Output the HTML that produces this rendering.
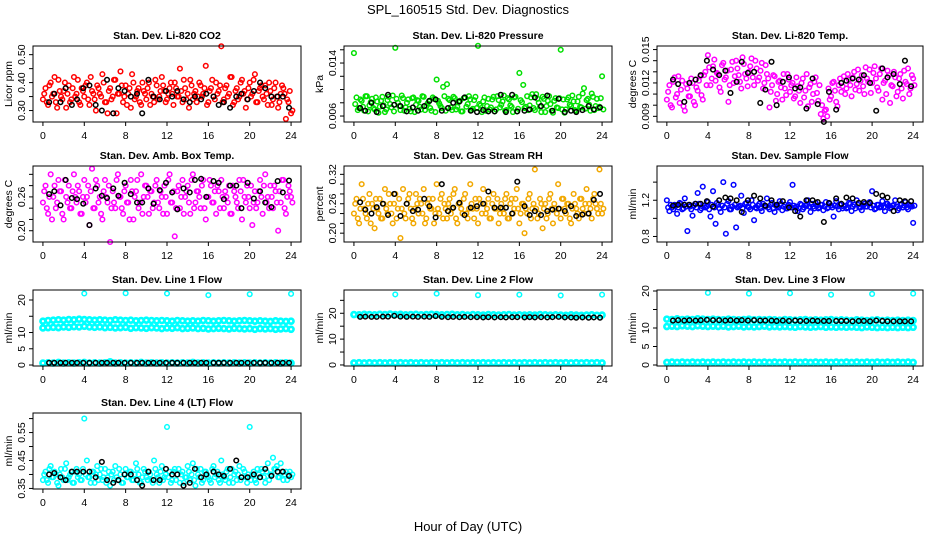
<!DOCTYPE html>
<html><head><meta charset="utf-8"><title>SPL_160515 Std. Dev. Diagnostics</title>
<style>
html,body{margin:0;padding:0;background:#fff;}
svg{display:block;font-family:"Liberation Sans",Arial,sans-serif;}
</style></head>
<body>
<svg id="chart" width="936" height="540" viewBox="0 0 936 540" xmlns="http://www.w3.org/2000/svg">
<text x="468" y="14" text-anchor="middle" font-size="13">SPL_160515  Std. Dev. Diagnostics</text>
<text x="468" y="531" text-anchor="middle" font-size="13">Hour of Day (UTC)</text>
</svg>
<script>
// ---- data ----
const hourTicks = [0,4,8,12,16,20,24];
const blackTimes = [0.6,1.1,1.7,2.2,2.8,3.3,3.9,4.5,5.1,5.7,6.2,6.8,7.3,7.9,8.5,9.1,9.6,10.2,10.7,11.3,11.9,12.5,13.0,13.6,14.2,14.7,15.3,15.8,16.5,17.0,17.5,18.1,18.7,19.2,19.8,20.4,21.0,21.5,22.1,22.7,23.2,23.8];
const outlierTimes = [4,8,12,16,20,24];

const co2Vals = [0.34,0.38,0.32,0.40,0.36,0.33,0.41,0.35,0.37,0.31,0.39,0.34,0.42,0.36,0.33,0.38,0.35,0.40,0.32,0.37,0.34,0.39,0.36,0.43,0.33,0.29,0.38,0.35,0.41,0.36,0.44,0.33,0.39,0.36,0.31,0.40,0.35,0.38,0.32,0.37,0.34,0.40,0.36,0.33,0.39,0.35,0.42,0.37,0.34,0.38,0.36,0.40,0.35,0.45,0.33,0.38,0.36,0.41,0.34,0.37,0.35,0.39,0.36,0.46,0.33,0.38,0.35,0.40,0.37,0.53,0.34,0.39,0.36,0.42,0.33,0.38,0.35,0.41,0.37,0.34,0.40,0.36,0.43,0.33,0.38,0.35,0.39,0.32,0.37,0.34,0.40,0.31,0.36,0.38,0.27,0.33,0.29];
const co2ValsB = [0.36,0.33,0.39,0.35,0.42,0.31,0.37,0.34,0.40,0.36,0.33,0.38,0.35,0.41,0.32,0.37,0.39,0.34,0.42,0.36,0.30,0.38,0.35,0.40,0.33,0.37,0.34,0.41,0.29,0.36,0.39,0.35,0.32,0.38,0.43,0.34,0.37,0.33,0.40,0.36,0.38,0.32,0.35,0.41,0.34,0.37,0.39,0.33,0.36,0.40,0.32,0.38,0.35,0.37,0.41,0.34,0.31,0.39,0.36,0.33,0.40,0.35,0.38,0.32,0.37,0.41,0.34,0.36,0.39,0.33,0.38,0.35,0.42,0.32,0.37,0.34,0.40,0.36,0.31,0.38,0.35,0.41,0.33,0.37,0.39,0.34,0.36,0.40,0.32,0.38,0.35,0.33,0.39,0.36,0.34,0.37,0.30];
const co2Black = [0.33,0.36,0.33,0.38,0.32,0.34,0.38,0.39,0.32,0.30,0.41,0.29,0.38,0.37,0.35,0.36,0.29,0.41,0.35,0.34,0.37,0.35,0.37,0.34,0.33,0.35,0.34,0.36,0.35,0.32,0.33,0.31,0.35,0.36,0.34,0.37,0.40,0.38,0.35,0.35,0.35,0.31];

const presVals = [0.0155,0.0088,0.0072,0.0083,0.0068,0.0090,0.0076,0.0086,0.0070,0.0082,0.0074,0.0089,0.0066,0.0084,0.0078,0.0091,0.0163,0.0080,0.0069,0.0087,0.0073,0.0085,0.0067,0.0088,0.0077,0.0083,0.0070,0.0089,0.0075,0.0082,0.0068,0.0086,0.0115,0.0079,0.0072,0.0090,0.0108,0.0084,0.0069,0.0087,0.0074,0.0083,0.0067,0.0088,0.0078,0.0085,0.0071,0.0089,0.0166,0.0076,0.0082,0.0068,0.0086,0.0073,0.0089,0.0070,0.0084,0.0077,0.0091,0.0069,0.0085,0.0074,0.0088,0.0067,0.0125,0.0081,0.0072,0.0090,0.0076,0.0093,0.0069,0.0086,0.0074,0.0089,0.0066,0.0083,0.0078,0.0065,0.0087,0.0072,0.0160,0.0085,0.0070,0.0088,0.0075,0.0082,0.0068,0.0089,0.0073,0.0102,0.0084,0.0077,0.0094,0.0069,0.0086,0.0074,0.0120];
const presValsB = [0.0078,0.0069,0.0085,0.0074,0.0090,0.0067,0.0081,0.0072,0.0088,0.0065,0.0083,0.0076,0.0070,0.0089,0.0073,0.0067,0.0086,0.0075,0.0091,0.0068,0.0080,0.0071,0.0087,0.0066,0.0084,0.0074,0.0090,0.0069,0.0079,0.0072,0.0088,0.0066,0.0083,0.0075,0.0104,0.0068,0.0086,0.0073,0.0089,0.0070,0.0081,0.0067,0.0087,0.0074,0.0090,0.0069,0.0084,0.0072,0.0078,0.0066,0.0088,0.0075,0.0070,0.0085,0.0067,0.0090,0.0073,0.0082,0.0068,0.0087,0.0076,0.0066,0.0089,0.0071,0.0084,0.0107,0.0074,0.0069,0.0088,0.0072,0.0093,0.0080,0.0066,0.0086,0.0075,0.0090,0.0068,0.0083,0.0073,0.0087,0.0070,0.0065,0.0085,0.0077,0.0091,0.0069,0.0082,0.0074,0.0094,0.0071,0.0086,0.0068,0.0089,0.0075,0.0072,0.0087,0.0070];
const presBlack = [0.0072,0.0068,0.0080,0.0066,0.0075,0.0092,0.0077,0.0075,0.0067,0.0073,0.0068,0.0075,0.0083,0.0085,0.0068,0.0072,0.0080,0.0082,0.0088,0.0068,0.0066,0.0069,0.0067,0.0067,0.0092,0.0066,0.0092,0.0067,0.0068,0.0070,0.0088,0.0075,0.0091,0.0068,0.0086,0.0066,0.0068,0.0066,0.0069,0.0075,0.0070,0.0073];

const tempVals = [0.0105,0.0118,0.0098,0.0125,0.0110,0.0102,0.0122,0.0095,0.0115,0.0108,0.0120,0.0100,0.0113,0.0126,0.0105,0.0130,0.0145,0.0118,0.0135,0.0122,0.0128,0.0112,0.0138,0.0125,0.0103,0.0132,0.0120,0.0140,0.0127,0.0115,0.0137,0.0124,0.0130,0.0142,0.0118,0.0133,0.0125,0.0138,0.0120,0.0128,0.0098,0.0118,0.0126,0.0110,0.0122,0.0105,0.0115,0.0128,0.0112,0.0120,0.0108,0.0117,0.0102,0.0124,0.0113,0.0099,0.0119,0.0110,0.0125,0.0104,0.0092,0.0088,0.0096,0.0115,0.0108,0.0121,0.0103,0.0118,0.0112,0.0126,0.0115,0.0123,0.0108,0.0130,0.0119,0.0113,0.0127,0.0110,0.0124,0.0132,0.0120,0.0135,0.0116,0.0128,0.0105,0.0122,0.0131,0.0102,0.0117,0.0125,0.0112,0.0128,0.0106,0.0121,0.0133,0.0115,0.0124];
const tempValsB = [0.0112,0.0100,0.0121,0.0107,0.0126,0.0114,0.0099,0.0119,0.0108,0.0124,0.0103,0.0116,0.0122,0.0109,0.0127,0.0118,0.0134,0.0124,0.0141,0.0129,0.0116,0.0136,0.0123,0.0131,0.0118,0.0139,0.0126,0.0133,0.0121,0.0143,0.0128,0.0117,0.0135,0.0125,0.0140,0.0122,0.0131,0.0115,0.0136,0.0124,0.0112,0.0127,0.0104,0.0121,0.0116,0.0128,0.0109,0.0123,0.0118,0.0106,0.0125,0.0113,0.0120,0.0107,0.0128,0.0116,0.0103,0.0121,0.0111,0.0118,0.0100,0.0095,0.0090,0.0105,0.0120,0.0113,0.0099,0.0124,0.0117,0.0110,0.0128,0.0118,0.0125,0.0114,0.0132,0.0122,0.0117,0.0134,0.0121,0.0111,0.0129,0.0124,0.0113,0.0133,0.0120,0.0110,0.0127,0.0118,0.0130,0.0108,0.0124,0.0115,0.0131,0.0119,0.0110,0.0127,0.0118];
const tempBlack = [0.0123,0.0119,0.0103,0.0120,0.0123,0.0127,0.0140,0.0132,0.0127,0.0131,0.0111,0.0121,0.0139,0.0129,0.0130,0.0102,0.0114,0.0139,0.0100,0.0121,0.0125,0.0115,0.0116,0.0097,0.0124,0.0101,0.0085,0.0112,0.0096,0.0120,0.0122,0.0124,0.0123,0.0127,0.0120,0.0095,0.0133,0.0125,0.0128,0.0119,0.0140,0.0117];

const ambVals = [0.25,0.28,0.23,0.30,0.26,0.24,0.29,0.27,0.22,0.26,0.28,0.24,0.30,0.25,0.27,0.23,0.29,0.26,0.21,0.31,0.24,0.28,0.26,0.22,0.29,0.25,0.18,0.27,0.24,0.30,0.26,0.23,0.28,0.25,0.29,0.22,0.27,0.24,0.30,0.26,0.28,0.23,0.27,0.25,0.29,0.24,0.26,0.28,0.23,0.30,0.25,0.19,0.27,0.24,0.29,0.26,0.28,0.23,0.30,0.25,0.27,0.24,0.29,0.22,0.26,0.28,0.25,0.23,0.27,0.29,0.24,0.26,0.28,0.23,0.27,0.25,0.29,0.22,0.26,0.28,0.24,0.21,0.27,0.25,0.29,0.23,0.30,0.26,0.28,0.24,0.27,0.20,0.25,0.29,0.23,0.28,0.26];
const ambValsB = [0.27,0.24,0.26,0.22,0.28,0.25,0.27,0.23,0.29,0.25,0.24,0.27,0.26,0.28,0.23,0.26,0.25,0.28,0.27,0.24,0.29,0.25,0.23,0.27,0.26,0.28,0.24,0.25,0.29,0.26,0.24,0.27,0.25,0.22,0.27,0.26,0.29,0.25,0.23,0.28,0.26,0.27,0.24,0.28,0.25,0.27,0.23,0.26,0.29,0.25,0.27,0.24,0.28,0.26,0.23,0.27,0.25,0.29,0.24,0.27,0.26,0.28,0.24,0.26,0.29,0.25,0.27,0.28,0.24,0.26,0.27,0.25,0.23,0.28,0.26,0.24,0.27,0.29,0.25,0.26,0.28,0.25,0.24,0.27,0.26,0.28,0.25,0.24,0.26,0.28,0.25,0.27,0.29,0.24,0.26,0.27,0.25];
const ambBlack = [0.265,0.270,0.245,0.290,0.258,0.256,0.248,0.210,0.275,0.262,0.258,0.275,0.262,0.285,0.265,0.250,0.250,0.275,0.248,0.272,0.285,0.268,0.238,0.275,0.268,0.290,0.292,0.260,0.288,0.285,0.256,0.280,0.280,0.240,0.285,0.257,0.270,0.250,0.242,0.288,0.268,0.289];

const rhVals = [0.24,0.27,0.22,0.30,0.25,0.23,0.28,0.26,0.21,0.25,0.27,0.23,0.29,0.24,0.26,0.22,0.28,0.25,0.19,0.29,0.23,0.27,0.25,0.22,0.28,0.24,0.26,0.29,0.23,0.27,0.25,0.22,0.30,0.24,0.28,0.26,0.23,0.27,0.25,0.29,0.22,0.26,0.24,0.28,0.23,0.30,0.25,0.27,0.22,0.26,0.29,0.24,0.27,0.23,0.28,0.25,0.22,0.26,0.24,0.28,0.23,0.27,0.25,0.29,0.22,0.26,0.20,0.24,0.28,0.25,0.33,0.23,0.27,0.21,0.26,0.24,0.28,0.22,0.25,0.30,0.23,0.27,0.24,0.26,0.22,0.28,0.25,0.23,0.27,0.24,0.29,0.26,0.23,0.28,0.25,0.33,0.24];
const rhValsB = [0.26,0.23,0.25,0.27,0.24,0.26,0.22,0.25,0.27,0.24,0.23,0.26,0.25,0.28,0.24,0.26,0.23,0.27,0.25,0.24,0.26,0.28,0.23,0.25,0.26,0.27,0.24,0.22,0.26,0.25,0.27,0.24,0.25,0.27,0.23,0.25,0.26,0.24,0.28,0.23,0.26,0.25,0.27,0.24,0.25,0.26,0.23,0.25,0.27,0.24,0.26,0.25,0.23,0.26,0.25,0.27,0.24,0.25,0.27,0.23,0.26,0.24,0.27,0.25,0.24,0.26,0.25,0.27,0.23,0.26,0.25,0.24,0.26,0.25,0.23,0.27,0.25,0.26,0.24,0.25,0.27,0.25,0.26,0.23,0.25,0.26,0.24,0.27,0.25,0.26,0.24,0.25,0.27,0.26,0.24,0.26,0.25];
const rhBlack = [0.263,0.248,0.240,0.253,0.260,0.237,0.280,0.235,0.260,0.245,0.248,0.270,0.255,0.232,0.300,0.245,0.252,0.262,0.237,0.252,0.255,0.260,0.285,0.252,0.252,0.252,0.240,0.305,0.255,0.237,0.245,0.237,0.245,0.248,0.250,0.245,0.255,0.235,0.238,0.240,0.268,0.280];

const flowVals = [1.20,1.08,1.12,1.15,1.05,1.17,1.10,1.22,0.86,1.13,1.03,1.16,1.28,1.09,1.35,1.12,1.18,1.02,1.30,0.94,1.15,1.07,1.40,0.83,1.19,1.10,1.37,0.90,1.13,1.25,1.06,1.17,1.12,1.20,0.98,1.11,1.16,1.08,1.14,1.22,1.10,1.17,1.07,1.13,1.19,1.09,1.15,1.11,1.18,1.37,1.12,1.08,1.16,1.10,1.14,1.20,1.07,1.13,1.17,1.11,1.15,1.09,1.18,1.12,1.14,1.02,1.19,1.10,1.16,1.13,1.11,1.17,1.08,1.15,1.20,1.12,1.09,1.16,1.13,1.18,1.30,1.10,1.15,1.12,1.19,1.08,1.16,1.11,1.14,1.20,1.09,1.15,1.12,1.18,1.10,1.14,0.95];
const flowValsB = [1.12,1.15,1.10,1.14,1.12,1.16,1.11,1.13,1.15,1.10,1.14,1.12,1.16,1.11,1.14,1.13,1.10,1.15,1.12,1.17,1.11,1.14,1.12,1.16,1.10,1.13,1.15,1.12,1.14,1.11,1.16,1.13,1.10,1.15,1.12,1.14,1.11,1.16,1.13,1.12,1.15,1.11,1.14,1.12,1.16,1.13,1.11,1.15,1.12,1.14,1.13,1.11,1.15,1.12,1.14,1.13,1.16,1.11,1.14,1.12,1.15,1.13,1.11,1.16,1.12,1.14,1.13,1.15,1.11,1.14,1.12,1.16,1.13,1.11,1.15,1.12,1.14,1.13,1.16,1.12,1.14,1.11,1.15,1.13,1.12,1.16,1.14,1.12,1.15,1.13,1.11,1.16,1.14,1.12,1.15,1.13,1.14];
const flowBlack = [1.14,1.15,1.15,1.15,1.16,1.16,1.19,1.13,1.20,1.23,1.22,1.20,1.07,1.20,1.25,1.22,1.14,1.20,1.15,1.19,1.12,1.08,1.02,1.20,1.20,1.18,0.96,1.17,1.22,1.16,1.23,1.22,1.17,1.18,1.17,1.27,1.25,1.23,1.08,1.20,1.19,1.19];

const line1Upper = [13.5,13.7,13.8,13.9,13.8,14.0,13.9,14.1,14.0,13.9,13.8,13.9,13.8,13.7,13.9,13.8,13.7,13.8,13.6,13.7,13.8,13.7,13.6,13.7,13.6,13.5,13.7,13.6,13.5,13.6,13.5,13.7,13.6,13.5,13.6,13.7,13.6,13.5,13.6,13.7,13.6,13.5,13.6,13.5,13.4,13.6,13.5,13.4,13.5];
const line1Lower = [11.4,11.5,11.6,11.5,11.7,11.6,11.8,11.7,11.9,11.7,11.6,11.7,11.5,11.6,11.4,11.5,11.6,11.3,11.5,11.4,11.3,11.5,11.4,11.2,11.4,11.3,11.5,11.2,11.3,11.4,11.2,11.3,11.1,11.2,11.3,11.2,11.1,11.3,11.2,11.1,11.2,11.0,11.2,11.1,11.2,11.0,11.1,11.2,11.0];
const line1Base = [0.6,0.7,0.6,0.8,0.6,0.7,0.6,0.7,0.8,0.6,0.7,0.6,0.7,1.0,0.6,0.7,0.6,0.7,0.6,0.8,0.6,0.7,0.6,0.7,0.6,0.7,0.6,0.7,0.6,0.8,0.6,0.7,0.6,0.7,0.6,0.7,0.6,0.7,0.6,0.7,0.6,0.7,0.6,0.7,0.6,0.7,0.6,0.7,0.6];
const line1Out = [22.0,22.1,22.0,21.5,21.8,21.9];
const line1Black = [0.7,0.7,0.7,0.7,0.7,0.7,0.7,0.7,0.7,0.7,0.7,0.7,0.7,0.7,0.7,0.7,0.7,0.7,0.7,0.7,0.7,0.7,0.7,0.7,0.7,0.7,0.7,0.7,0.7,0.7,0.7,0.7,0.7,0.7,0.7,0.7,0.7,0.7,0.7,0.7,0.7,0.7];

const line2Upper = [19.5,19.4,19.6,19.5,19.4,19.6,19.5,19.7,19.5,19.6,19.4,19.5,19.6,19.4,19.5,19.6,19.5,19.4,19.5,19.6,19.4,19.5,19.3,19.5,19.4,19.3,19.5,19.4,19.3,19.4,19.5,19.3,19.4,19.3,19.4,19.3,19.5,19.4,19.3,19.4,19.3,19.2,19.4,19.3,19.2,19.3,19.4,19.2,19.3];
const line2Base = [0.8,0.9,0.8,0.9,0.8,0.9,0.8,0.9,0.8,0.9,0.8,0.9,0.8,0.9,0.8,0.9,0.8,0.9,0.8,0.9,0.8,0.9,0.8,0.9,0.8,0.9,0.8,0.9,0.8,0.9,0.8,0.9,0.8,0.9,0.8,0.9,0.8,0.9,0.8,0.9,0.8,0.9,0.8,0.9,0.8,0.9,0.8,0.9,0.8];
const line2Out = [27.3,27.6,27.0,27.2,26.9,27.2];
const line2Black = [18.6,18.7,18.6,18.6,18.7,18.7,19.0,18.7,18.6,18.7,18.6,18.7,18.6,18.9,18.6,18.5,18.6,18.5,18.6,18.5,18.5,18.4,18.5,18.4,18.5,18.4,18.5,18.5,18.4,18.5,18.4,18.5,18.4,18.5,18.6,18.4,18.4,18.3,18.4,18.3,18.4,18.3];

const line3Upper = [12.4,12.3,12.5,12.3,12.4,12.3,12.5,12.4,12.3,12.4,12.3,12.2,12.4,12.3,12.2,12.3,12.4,12.2,12.3,12.2,12.3,12.2,12.1,12.3,12.2,12.1,12.2,12.3,12.1,12.2,12.1,12.2,12.3,12.1,12.2,12.1,12.0,12.2,12.1,12.0,12.1,12.2,12.0,12.1,12.0,12.1,12.0,12.1,12.0];
const line3Lower = [10.4,10.5,10.4,10.6,10.5,10.4,10.6,10.5,10.4,10.5,10.4,10.5,10.3,10.4,10.5,10.3,10.4,10.3,10.4,10.5,10.3,10.4,10.3,10.4,10.3,10.2,10.4,10.3,10.2,10.3,10.4,10.2,10.3,10.2,10.3,10.2,10.3,10.2,10.1,10.3,10.2,10.1,10.2,10.1,10.2,10.1,10.2,10.1,10.2];
const line3Base = [0.7,0.8,0.7,0.8,0.7,0.8,0.7,0.8,0.7,0.8,0.7,0.8,0.7,0.8,0.7,0.8,0.7,0.8,0.7,0.8,0.7,0.8,0.7,0.8,0.7,0.8,0.7,0.8,0.7,0.8,0.7,0.8,0.7,0.8,0.7,0.8,0.7,0.8,0.7,0.8,0.7,0.8,0.7,0.8,0.7,0.8,0.7,0.8,0.7];
const line3Out = [19.5,19.3,19.4,19.0,19.2,19.3];
const line3Black = [12.0,12.1,12.0,12.1,12.0,12.1,12.2,12.1,12.1,12.0,12.1,12.0,12.1,12.0,12.1,12.0,12.0,12.0,11.9,12.0,11.9,12.0,11.9,11.9,12.0,11.9,11.9,11.9,11.9,11.9,11.9,11.8,11.9,11.9,11.8,12.0,11.9,11.8,11.8,11.8,11.8,11.8];

const line4Vals = [0.38,0.41,0.37,0.43,0.39,0.40,0.36,0.42,0.38,0.44,0.39,0.41,0.37,0.42,0.40,0.38,0.60,0.45,0.39,0.41,0.37,0.43,0.40,0.38,0.42,0.39,0.36,0.41,0.43,0.38,0.40,0.37,0.42,0.39,0.41,0.38,0.44,0.40,0.37,0.42,0.39,0.41,0.38,0.45,0.40,0.37,0.43,0.39,0.57,0.41,0.38,0.42,0.40,0.37,0.41,0.39,0.43,0.38,0.44,0.36,0.40,0.42,0.38,0.41,0.39,0.37,0.43,0.40,0.38,0.45,0.39,0.41,0.37,0.42,0.40,0.38,0.43,0.39,0.41,0.37,0.57,0.40,0.38,0.42,0.39,0.41,0.37,0.44,0.40,0.46,0.42,0.39,0.44,0.38,0.41,0.40,0.39];
const line4ValsB = [0.40,0.38,0.42,0.39,0.41,0.37,0.40,0.39,0.42,0.38,0.40,0.37,0.41,0.39,0.38,0.42,0.40,0.39,0.37,0.41,0.40,0.38,0.42,0.39,0.37,0.41,0.40,0.38,0.39,0.42,0.37,0.40,0.39,0.41,0.38,0.40,0.42,0.37,0.39,0.41,0.38,0.40,0.37,0.42,0.39,0.41,0.38,0.40,0.39,0.37,0.41,0.38,0.42,0.40,0.37,0.39,0.41,0.40,0.38,0.42,0.39,0.37,0.41,0.40,0.38,0.42,0.39,0.41,0.37,0.40,0.38,0.42,0.39,0.37,0.41,0.40,0.38,0.42,0.39,0.40,0.38,0.41,0.37,0.40,0.42,0.39,0.41,0.38,0.40,0.42,0.43,0.39,0.41,0.40,0.38,0.41,0.40];
const line4Black = [0.40,0.405,0.39,0.38,0.41,0.41,0.41,0.41,0.39,0.445,0.38,0.37,0.38,0.40,0.40,0.38,0.36,0.41,0.38,0.38,0.42,0.40,0.40,0.36,0.37,0.42,0.39,0.40,0.41,0.40,0.395,0.42,0.45,0.39,0.39,0.40,0.39,0.42,0.395,0.41,0.41,0.395];

// ---- layout ----
const NS = "http://www.w3.org/2000/svg";
const svg = document.getElementById("chart");
const colL = [33, 344, 657], colW = [268, 268, 266];
const rowT = [46, 166, 290, 413], rowH = 76;

function gridTimes(n, step, off){ const a=[]; for(let i=0;i<n;i++) a.push((off||0)+i*step); return a; }

const panels = [
 {name:"co2", title:"Stan. Dev. Li-820 CO2", ylab:"Licor ppm", c:0, r:0, ymin:0.259, ymax:0.531, ticks:[0.30,0.35,0.40,0.45,0.50], labels:["0.30","","0.40","","0.50"], color:"#ff0000",
  series:[{v:co2Vals, step:0.25},{v:co2ValsB, step:0.25, off:0.125}], black:co2Black},
 {name:"pressure", title:"Stan. Dev. Li-820 Pressure", ylab:"kPa", c:1, r:0, ymin:0.0051, ymax:0.01657, ticks:[0.006,0.008,0.010,0.012,0.014,0.016], labels:["0.006","","","","0.014",""], color:"#00e000",
  series:[{v:presVals, step:0.25},{v:presValsB, step:0.25, off:0.125}], black:presBlack},
 {name:"temp", title:"Stan. Dev. Li-820 Temp.", ylab:"degrees C", c:2, r:0, ymin:0.00849, ymax:0.01532, ticks:[0.009,0.010,0.011,0.012,0.013,0.014,0.015], labels:["0.009","","","0.012","","","0.015"], color:"#ff00ff",
  series:[{v:tempVals, step:0.25},{v:tempValsB, step:0.25, off:0.125}], black:tempBlack},
 {name:"amb-box-temp", title:"Stan. Dev. Amb. Box Temp.", ylab:"degrees C", c:0, r:1, ymin:0.18, ymax:0.3148, ticks:[0.20,0.22,0.24,0.26,0.28,0.30], labels:["0.20","","","0.26","",""], color:"#ff00ff",
  series:[{v:ambVals, step:0.25},{v:ambValsB, step:0.25, off:0.125}], black:ambBlack},
 {name:"gas-stream-rh", title:"Stan. Dev. Gas Stream RH", ylab:"percent", c:1, r:1, ymin:0.182, ymax:0.337, ticks:[0.20,0.22,0.24,0.26,0.28,0.30,0.32], labels:["0.20","","","0.26","","","0.32"], color:"#f2a800",
  series:[{v:rhVals, step:0.25},{v:rhValsB, step:0.25, off:0.125}], black:rhBlack},
 {name:"sample-flow", title:"Stan. Dev. Sample Flow", ylab:"ml/min", c:2, r:1, ymin:0.739, ymax:1.578, ticks:[0.8,1.0,1.2,1.4], labels:["0.8","","1.2",""], color:"#0000ff",
  series:[{v:flowVals, step:0.25},{v:flowValsB, step:0.25, off:0.125}], black:flowBlack},
 {name:"line1-flow", title:"Stan. Dev. Line 1 Flow", ylab:"ml/min", c:0, r:2, ymin:-0.3, ymax:23.08, ticks:[0,5,10,15,20], labels:["0","5","10","","20"], color:"#00ffff",
  series:[{v:line1Upper, step:0.5, band:true},{v:line1Lower, step:0.5, band:true},{v:line1Base, step:0.5, band:true},{v:line1Out, times:outlierTimes}], black:line1Black},
 {name:"line2-flow", title:"Stan. Dev. Line 2 Flow", ylab:"ml/min", c:1, r:2, ymin:-0.4, ymax:29.0, ticks:[0,5,10,15,20,25], labels:["0","","10","","20",""], color:"#00ffff",
  series:[{v:line2Upper, step:0.5, band:true},{v:line2Base, step:0.5, band:true},{v:line2Out, times:outlierTimes}], black:line2Black},
 {name:"line3-flow", title:"Stan. Dev. Line 3 Flow", ylab:"ml/min", c:2, r:2, ymin:-0.27, ymax:20.27, ticks:[0,5,10,15,20], labels:["0","5","10","","20"], color:"#00ffff",
  series:[{v:line3Upper, step:0.5, band:true},{v:line3Lower, step:0.5, band:true},{v:line3Base, step:0.5, band:true},{v:line3Out, times:outlierTimes}], black:line3Black},
 {name:"line4-flow", title:"Stan. Dev. Line 4 (LT) Flow", ylab:"ml/min", c:0, r:3, ymin:0.348, ymax:0.62, ticks:[0.35,0.40,0.45,0.50,0.55,0.60], labels:["0.35","","0.45","","0.55",""], color:"#00ffff",
  series:[{v:line4Vals, step:0.25},{v:line4ValsB, step:0.25, off:0.125}], black:line4Black}
];

function mk(tag, attrs, parent){
  const e = document.createElementNS(NS, tag);
  for (const k in attrs) e.setAttribute(k, attrs[k]);
  (parent||svg).appendChild(e);
  return e;
}

panels.forEach(p => {
  const L = colL[p.c], W = colW[p.c], T = rowT[p.r], H = rowH;
  const xs = t => L + (t + 0.96) / 25.92 * W;
  const ys = v => T + H - (v - p.ymin) / (p.ymax - p.ymin) * H;
  const g = mk("g", {});
  
  

  const title = mk("text", {x: L + W/2, y: T - 7, "text-anchor":"middle", "font-size":"10.5", "font-weight":"bold"}, g);
  title.textContent = p.title;
  
  

  const yl = mk("text", {x: 0, y: 0, "text-anchor":"middle", "font-size":"10.5", transform:`translate(${L-21},${T+H/2}) rotate(-90)`}, g);
  yl.textContent = p.ylab;
  
  

  const pts = mk("g", {fill:"none", stroke:p.color, "stroke-width":"1.5"}, g);
  
  
  p.series.forEach(s => {
    const times = s.times || gridTimes(s.v.length, s.step, s.off);
    s.v.forEach((v, i) => {
      const c = mk("circle", {cx: xs(times[i]).toFixed(2), cy: ys(v).toFixed(2), r: s.band ? 2.5 : 2.3, "stroke-width": s.band ? 2.6 : 1.5}, pts);
      
      
    });
  });
  const bpts = mk("g", {fill:"none", stroke:"#000", "stroke-width":"1.5"}, g);
  
  
  p.black.forEach((v, i) => {
    const c = mk("circle", {cx: xs(blackTimes[i]).toFixed(2), cy: ys(v).toFixed(2), r: 2.3}, bpts);
    
    
  });

  const box = mk("rect", {x:L, y:T, width:W, height:H, fill:"none", stroke:"#000", "stroke-width":"1"}, g);
  
  

  const xa = mk("g", {}, g);
  
  
  hourTicks.forEach(t => {
    mk("line", {x1:xs(t), x2:xs(t), y1:T+H, y2:T+H+4, stroke:"#000"}, xa);
    const tl = mk("text", {x:xs(t), y:T+H+17, "text-anchor":"middle", "font-size":"10.5"}, xa);
    tl.textContent = t;
    
    
  });
  const ya = mk("g", {}, g);
  
  
  p.ticks.forEach((t, i) => {
    mk("line", {x1:L-4, x2:L, y1:ys(t), y2:ys(t), stroke:"#000"}, ya);
    if (p.labels[i]) {
      const tl = mk("text", {x:0, y:0, "text-anchor":"middle", "font-size":"10.5", transform:`translate(${L-8},${ys(t)}) rotate(-90)`}, ya);
      tl.textContent = p.labels[i];
      
      
    }
  });
});
</script>
</body></html>
